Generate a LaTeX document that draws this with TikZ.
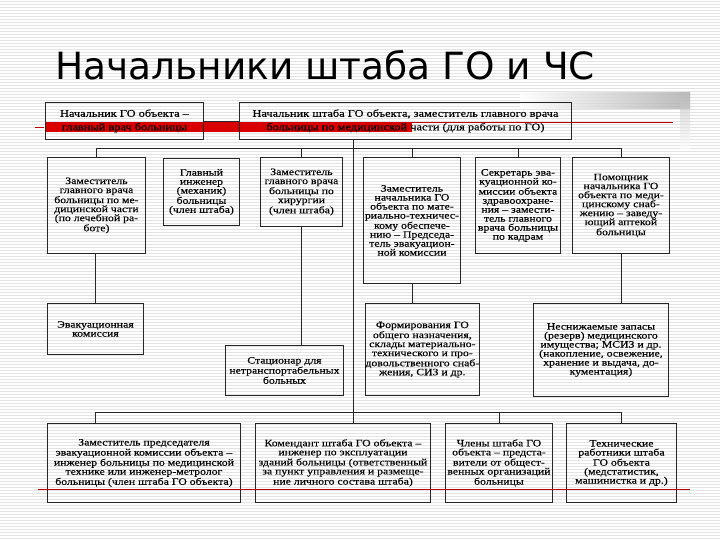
\documentclass[tikz,border=0pt]{standalone}
\usepackage{fontspec}
\setmainfont{Liberation Serif}
\newfontfamily\scanfont[FakeStretch=1.2,FakeBold=0.2]{Liberation Serif}
\newfontfamily\titlefont{DejaVu Sans}
\begin{document}
\begin{tikzpicture}[x=1pt,y=-1pt,
  box/.style={draw=black!85, line width=0.9pt, inner sep=0pt, align=center, anchor=north west,
    font=\scanfont\fontsize{9.8}{9}\selectfont},
  headbox/.style={box, font=\scanfont\fontsize{10.3}{13.5}\selectfont},
  conn/.style={draw=black!85, line width=0.8pt},
  stripe/.style={draw=gray!22, line width=0.6pt},
  redmark/.style={draw=red!75!black, line width=0.7pt}]
\useasboundingbox (0,0) rectangle (720,540);
\fill[white] (0,0) rectangle (720,540);
\foreach \yy in {1.5,4.5,...,540} \draw[stripe] (0,\yy) -- (720,\yy);
\shade[left color=white, right color=gray!65, opacity=0.8] (520,93) rectangle (690,109);
\shade[top color=gray!55, bottom color=white, opacity=0.6] (680,93) rectangle (690,150);

% title
\node[anchor=base west, inner sep=0pt, font=\titlefont\fontsize{37.5}{40}\selectfont] (title) at (55,80) {Начальники штаба ГО и ЧС};

% red highlight behind header second lines
\fill[red!85!black] (46,122) rectangle (412,132);
\draw[redmark] (412,122.5) -- (673,122.5);
\draw[redmark] (35,127) -- (44,127);

% headers
\node[headbox, minimum width=158pt, minimum height=37pt] (HL) at (45,102)
  {Начальник ГО объекта –\\главный врач больницы};
\node[headbox, minimum width=332pt, minimum height=37pt] (HR) at (239,102)
  {Начальник штаба ГО объекта, заместитель главного врача\\больницы по медицинской части (для работы по ГО)};

% row 1
\node[box, minimum width=98pt, minimum height=96pt] (A) at (47,157)
  {Заместитель\\главного врача\\больницы по ме-\\дицинской части\\(по лечебной ра-\\боте)};
\node[box, minimum width=76pt, minimum height=67pt] (B) at (163,158)
  {Главный\\инженер\\(механик)\\больницы\\(член штаба)};
\node[box, minimum width=82pt, minimum height=69pt] (C) at (260,157)
  {Заместитель\\главного врача\\больницы по\\хирургии\\(член штаба)};
\node[box, minimum width=97pt, minimum height=126pt] (D) at (363,157)
  {Заместитель\\начальника ГО\\объекта по мате-\\риально-техничес-\\кому обеспече-\\нию – Председа-\\тель эвакуацион-\\ной комиссии};
\node[box, minimum width=85pt, minimum height=96pt] (E) at (475,157)
  {Секретарь эва-\\куационной ко-\\миссии объекта\\здравоохране-\\ния – замести-\\тель главного\\врача больницы\\по кадрам};
\node[box, minimum width=97pt, minimum height=96pt] (F) at (572,157)
  {Помощник\\начальника ГО\\объекта по меди-\\цинскому снаб-\\жению – заведу-\\ющий аптекой\\больницы};

% row 2
\node[box, minimum width=96pt, minimum height=51pt] (Ev) at (47,303)
  {Эвакуационная\\комиссия};
\node[box, minimum width=118pt, minimum height=50pt] (St) at (225,345)
  {Стационар для\\нетранспортабельных\\больных};
\node[box, minimum width=95pt, minimum height=92pt] (Fo) at (365,303)
  {Формирования ГО\\общего назначения,\\склады материально-\\технического и про-\\довольственного снаб-\\жения, СИЗ и др.};
\node[box, minimum width=135pt, minimum height=93pt] (Re) at (533,303)
  {Неснижаемые запасы\\(резерв) медицинского\\имущества; МСИЗ и др.\\(накопление, освежение,\\хранение и выдача, до-\\кументация)};

% row 3
\node[box, minimum width=193pt, minimum height=79pt] (G) at (47,423)
  {Заместитель председателя\\эвакуационной комиссии объекта –\\инженер больницы по медицинской\\технике или инженер-метролог\\больницы (член штаба ГО объекта)};
\node[box, minimum width=175pt, minimum height=79pt] (H) at (255,423)
  {Комендант штаба ГО объекта –\\инженер по эксплуатации\\зданий больницы (ответственный\\за пункт управления и размеще-\\ние личного состава штаба)};
\node[box, minimum width=107pt, minimum height=79pt] (I) at (445,423)
  {Члены штаба ГО\\объекта – предста-\\вители от общест-\\венных организаций\\больницы};
\node[box, minimum width=110pt, minimum height=79pt] (J) at (566,423)
  {Технические\\работники штаба\\ГО объекта\\(медстатистик,\\машинистка и др.)};

% connectors
\coordinate (tb) at (353,148);
\coordinate (bb) at (353,412);
\coordinate (gx) at (95,423);
\draw[conn] (HL.east) -- (HR.west);
\draw[conn] (HR.south -| tb) -- (H.north -| tb);
\draw[conn] (A.north |- tb) -- (F.north |- tb);
\foreach \n in {A,C,D,E,F} \draw[conn] (\n.north) -- (\n.north |- tb);
\draw[conn] (A.south -| gx) -- (Ev.north -| gx);
\draw[conn] (C.south) -- (C.south |- St.north);
\draw[conn] (D.south) -- (D.south |- Fo.north);
\draw[conn] (F.south) -- (F.south |- Re.north);
\draw[conn] (gx |- bb) -- (J.north |- bb);
\draw[conn] (gx |- bb) -- (gx);
\foreach \n in {I,J} \draw[conn] (\n.north) -- (\n.north |- bb);

% bottom red mark
\draw[redmark] (38,489) -- (690,489);
\end{tikzpicture}
\end{document}
